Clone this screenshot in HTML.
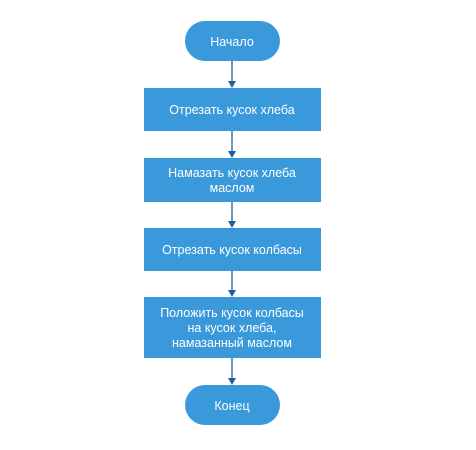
<!DOCTYPE html>
<html><head><meta charset="utf-8"><style>
html,body{margin:0;padding:0;background:#fff;}
text{font-family:"Liberation Sans Narrow","Liberation Sans",sans-serif;font-size:12.5px;fill:#fff;text-anchor:middle;font-weight:500;}
</style></head><body>
<svg width="476" height="445" viewBox="0 0 476 445" xmlns="http://www.w3.org/2000/svg">
<g stroke="#1f5f9a" stroke-width="1.3">
<line x1="232" y1="61" x2="232" y2="82"/>
<line x1="232" y1="131" x2="232" y2="152"/>
<line x1="232" y1="202" x2="232" y2="222"/>
<line x1="232" y1="271" x2="232" y2="291"/>
<line x1="232" y1="358" x2="232" y2="379"/>
</g>
<g fill="#1f5f9a">
<path d="M228,81 L236,81 L232,88 Z"/>
<path d="M228,151 L236,151 L232,158 Z"/>
<path d="M228,221 L236,221 L232,228 Z"/>
<path d="M228,290 L236,290 L232,297 Z"/>
<path d="M228,378 L236,378 L232,385 Z"/>
</g>
<g fill="#3a99da">
<rect x="185" y="21" width="95" height="40" rx="20"/>
<rect x="144" y="88" width="177" height="43"/>
<rect x="144" y="158" width="177" height="44"/>
<rect x="144" y="228" width="177" height="43"/>
<rect x="144" y="297" width="177" height="61"/>
<rect x="185" y="385" width="95" height="40" rx="20"/>
</g>
<text x="232" y="46">Начало</text>
<text x="232" y="114">Отрезать кусок хлеба</text>
<text x="232" y="177">Намазать кусок хлеба</text>
<text x="232" y="192">маслом</text>
<text x="232" y="254">Отрезать кусок колбасы</text>
<text x="232" y="317">Положить кусок колбасы</text>
<text x="232" y="332">на кусок хлеба,</text>
<text x="232" y="347">намазанный маслом</text>
<text x="232" y="410">Конец</text>
</svg>
</body></html>
